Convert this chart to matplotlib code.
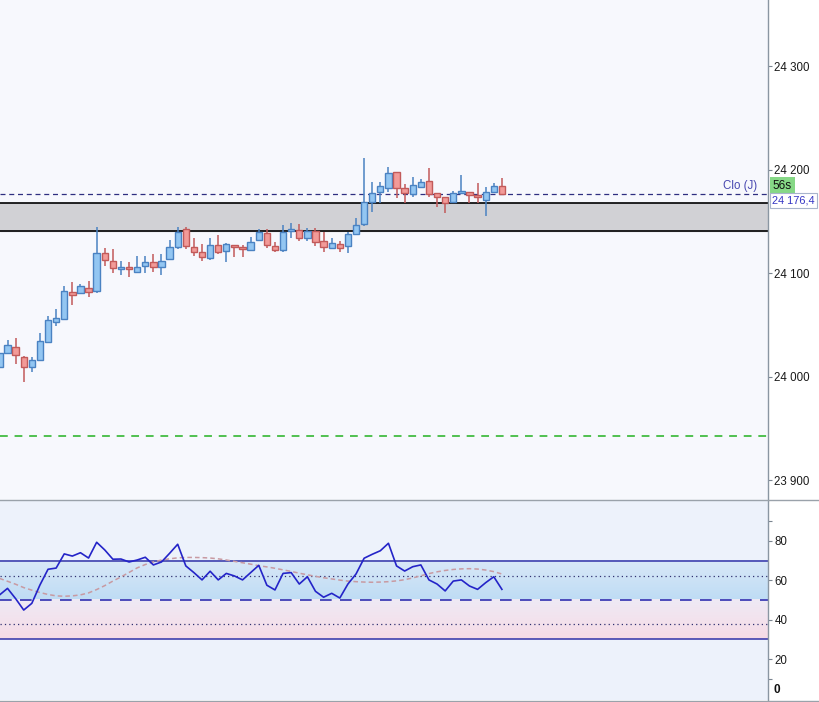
import matplotlib
matplotlib.use("Agg")
import matplotlib.pyplot as plt
import numpy as np
from matplotlib.ticker import FuncFormatter, FixedLocator
from matplotlib.transforms import blended_transform_factory
from matplotlib.lines import Line2D
from matplotlib.colors import LinearSegmentedColormap

plt.rcParams['font.family'] = ['Liberation Sans', 'DejaVu Sans']

# ---------------- data ----------------
opens = [24009, 24023, 24028.5, 24019, 24009, 24016, 24033, 24053, 24055.5, 24081.6,
         24080.7, 24085.5, 24082.6, 24119.3, 24111.6, 24103.9, 24105.8, 24101, 24106.8, 24110.6,
         24105.8, 24113.5, 24125.1, 24142.5, 24125.1, 24120.3, 24114.5, 24127, 24121.3, 24127,
         24125.1, 24122.2, 24131.9, 24138.6, 24126.1, 24122.2, 24140.6, 24141.5, 24133.8, 24140.6,
         24130.9, 24124.2, 24128, 24126.1, 24137.7, 24147.3, 24168.6, 24178.3, 24182.1, 24197.6,
         24182.1, 24176.3, 24183.1, 24188.9, 24177.3, 24173.4, 24168.6, 24177.3, 24178.3, 24175.4,
         24170.5, 24178.3, 24184.1]
highs = [24025, 24035, 24037, 24020, 24019, 24042, 24058.5, 24065, 24087, 24091,
         24089.4, 24092.3, 24144.4, 24124.2, 24123.2, 24111.6, 24110.6, 24116.4, 24116.4, 24118.4,
         24118.4, 24131.9, 24144.4, 24144.4, 24133.8, 24128, 24133.8, 24136.7, 24129, 24127.5,
         24127, 24134.8, 24142.5, 24142.5, 24130, 24146.4, 24148.3, 24147.3, 24143.5, 24143.5,
         24139.6, 24133.8, 24130.9, 24139.6, 24153.1, 24211.1, 24187.9, 24187.9, 24202.4, 24197.6,
         24186, 24192.8, 24190.8, 24201.4, 24177.3, 24173.4, 24179.2, 24194.7, 24178.3, 24187,
         24183.1, 24187, 24191.8]
lows = [24006, 24022, 24012, 23995, 24004, 24015, 24032, 24049, 24054.6, 24069,
        24079.7, 24076.8, 24080.7, 24106.8, 24100, 24098, 24096, 24100, 24100, 24101,
        24098, 24112.6, 24123.2, 24123.2, 24116.4, 24111.6, 24112.6, 24118.4, 24110.6, 24115.5,
        24115.5, 24122, 24130.9, 24124.2, 24120.3, 24120.3, 24133.8, 24130.9, 24130.9, 24126.1,
        24120.3, 24123.2, 24120.3, 24119.3, 24136.7, 24145.4, 24158.9, 24167.6, 24178.3, 24172.5,
        24167.6, 24173.4, 24183, 24173.4, 24163.8, 24157.9, 24168.6, 24177.3, 24167.6, 24167.6,
        24155.1, 24178.3, 24175.4]
closes = [24023, 24030, 24021, 24009, 24016, 24034, 24055, 24056.5, 24082.6, 24078.7,
          24087.4, 24081.6, 24119.3, 24112.6, 24104.8, 24105.8, 24103.9, 24105.8, 24110.6, 24105.8,
          24111.6, 24125.1, 24139.6, 24126.1, 24120.3, 24115.5, 24127, 24120.3, 24128, 24125.1,
          24123.2, 24129.9, 24139.6, 24127, 24122.2, 24139.6, 24142.5, 24133.8, 24140.6, 24129.9,
          24125.1, 24129, 24124.2, 24137.7, 24146.4, 24168.6, 24177.3, 24184.1, 24196.6, 24182.1,
          24177.3, 24185, 24187.9, 24176.3, 24173.4, 24167.6, 24177.3, 24179.2, 24175.4, 24173.4,
          24178.3, 24184.1, 24176.4]

rsi = [52.5, 55.9, 50.7, 44.9, 48.3, 57.6, 65.6, 66.2, 73.4, 72.3,
       74.0, 71.3, 79.3, 75.4, 70.7, 70.8, 69.3, 70.3, 71.7, 67.8,
       69.3, 73.7, 78.3, 67.3, 63.9, 60.2, 64.6, 60.2, 63.5, 62.2,
       60.2, 63.9, 67.6, 57.5, 55.1, 63.5, 63.9, 58.1, 61.8, 54.4,
       51.4, 53.4, 51.0, 58.1, 63.2, 71.2, 73.2, 75.0, 78.8, 67.3,
       64.7, 66.9, 67.8, 60.2, 58.1, 54.6, 59.6, 60.2, 57.1, 55.4,
       58.8, 61.8, 55.4]
rsi_ma = [61.0, 59.5, 58.0, 56.3, 55.0, 53.8, 52.8, 52.1, 51.9, 52.1,
          52.6, 53.6, 55.3, 57.3, 59.6, 61.7, 64.0, 66.3, 68.0, 69.3,
          70.3, 70.9, 71.4, 71.6, 71.6, 71.5, 71.3, 70.9, 70.3, 69.6,
          68.9, 68.2, 67.4, 66.8, 66.1, 65.3, 64.5, 63.6, 62.8, 62.0,
          61.3, 60.7, 60.1, 59.6, 59.3, 59.1, 59.0, 59.1, 59.3, 59.7,
          60.3, 61.2, 62.3, 63.4, 64.3, 65.0, 65.5, 65.8, 65.9, 65.7,
          65.2, 64.4, 63.2]

price_ticks = [23900, 24000, 24100, 24200, 24300]
rsi_ticks = [20, 40, 60, 80]
band_low, band_high = 24140.6, 24167.6
green_level = 23942.5
last_close_label = "24 176,4"
timer_label = "56s"
clo_label = "Clo (J)"
rsi_levels = {"upper": 70, "lower": 30, "mid": 50, "dot_hi": 62, "dot_lo": 38}

# ---------------- figure ----------------
W, H = 819, 702
fig = plt.figure(figsize=(W / 100, H / 100), dpi=100, facecolor='white')
axw = 767.5 / W
ax = fig.add_axes([0, 202 / H, axw, 500 / H])
ax2 = fig.add_axes([0, 2 / H, axw, 199 / H])

xlim = (0.074, 94.77)
n = len(closes)
idx = np.arange(n)

# ---------------- price panel ----------------
ax.set_facecolor('#f7f8fd')
ax.set_xlim(*xlim)
ax.set_ylim(23880.7, 24363.8)

ax.axhspan(band_low, band_high, color='#d1d1d5', zorder=1)
ax.axhline(band_low, color='black', lw=1.2, zorder=2)
ax.axhline(band_high, color='black', lw=1.2, zorder=2)
ax.axhline(closes[-1], color='#2e2e80', lw=0.9, ls=(0, (4, 3)), zorder=2)
ax.axhline(green_level, color='#50c050', lw=1.4, ls=(0, (4, 3.5)), zorder=2)

up_face, up_edge = '#93c6f2', '#4a82c2'
dn_face, dn_edge = '#f29a98', '#c25a5a'
for i, o, h, l, c in zip(idx, opens, highs, lows, closes):
    up = c >= o
    ec = up_edge if up else dn_edge
    fc = up_face if up else dn_face
    ax.vlines(i, l, h, color=ec, lw=1.1, zorder=3)
    bottom = min(o, c)
    height = max(abs(c - o), 0.8)
    ax.bar(i, height, bottom=bottom, width=0.78, color=fc, edgecolor=ec,
           linewidth=1.0, zorder=4)

ax.yaxis.tick_right()
ax.yaxis.set_major_locator(FixedLocator(price_ticks))
ax.yaxis.set_major_formatter(FuncFormatter(lambda v, p: f"{int(round(v)):,}".replace(",", " ")))
ax.tick_params(axis='y', direction='out', length=3, width=0.8, color='#7a8490',
               labelsize=8.3, labelcolor='#1a1a1a', pad=2)
ax.set_xticks([])
for s in ['top', 'left', 'bottom']:
    ax.spines[s].set_visible(False)
ax.spines['right'].set_color('#8a96a2')
ax.spines['right'].set_linewidth(1.0)

tr = blended_transform_factory(ax.transAxes, ax.transData)
ax.text(757 / 767.5, 24178.0, clo_label, transform=tr, ha='right', va='bottom',
        fontsize=8.3, color='#4848b0', zorder=6)
ax.text(1 + 5 / 767.5, 24184.5, timer_label, transform=tr, ha='left', va='center',
        fontsize=8.5, color='#101010', clip_on=False, zorder=6,
        bbox=dict(boxstyle='square,pad=0.25', fc='#86d886', ec='none'))
ax.text(1 + 5 / 767.5, closes[-1] - 1.5, last_close_label, transform=tr, ha='left', va='top',
        fontsize=7.9, color='#3434c4', clip_on=False, zorder=6,
        bbox=dict(boxstyle='square,pad=0.2', fc='white', ec='#a8b4cc', lw=0.8))

# ---------------- RSI panel ----------------
ax2.set_facecolor('#edf2fb')
grad = np.linspace(0, 1, 64).reshape(-1, 1)
cm_blue = LinearSegmentedColormap.from_list('b', ['#bedcf4', '#d9e8f8'])
cm_pink = LinearSegmentedColormap.from_list('p', ['#f7dbe6', '#eeeaf5'])
ax2.imshow(grad, extent=[xlim[0], xlim[1], rsi_levels['mid'], rsi_levels['upper']],
           origin='lower', aspect='auto', cmap=cm_blue, zorder=0.5)
ax2.imshow(grad, extent=[xlim[0], xlim[1], rsi_levels['lower'], rsi_levels['mid']],
           origin='lower', aspect='auto', cmap=cm_pink, zorder=0.5)
ax2.set_xlim(*xlim)
ax2.set_ylim(-0.76, 100.25)

ax2.axhline(rsi_levels['upper'], color='#3232a8', lw=1.1, zorder=2)
ax2.axhline(rsi_levels['lower'], color='#3232a8', lw=1.1, zorder=2)
ax2.axhline(rsi_levels['mid'], color='#3030b0', lw=1.2, ls=(0, (7, 5)), zorder=2)
ax2.axhline(rsi_levels['dot_hi'], color='#303070', lw=0.9, ls=(0, (1, 2.5)), zorder=2)
ax2.axhline(rsi_levels['dot_lo'], color='#303070', lw=0.9, ls=(0, (1, 2.5)), zorder=2)

ax2.plot(idx, rsi_ma, color='#c89aa2', lw=1.1, ls=(0, (3, 2)), zorder=3)
ax2.plot(idx, rsi, color='#2424c8', lw=1.2, zorder=4)

ax2.yaxis.tick_right()
ax2.set_yticks(rsi_ticks)
ax2.set_yticks([10, 90], minor=True)
ax2.tick_params(axis='y', which='both', direction='out', length=3, width=0.8, color='#7a8490',
                labelsize=8.3, labelcolor='#1a1a1a', pad=2)
ax2.set_xticks([])
for s in ['top', 'left', 'bottom']:
    ax2.spines[s].set_visible(False)
ax2.spines['right'].set_color('#8a96a2')
ax2.spines['right'].set_linewidth(1.0)
tr2 = blended_transform_factory(ax2.transAxes, ax2.transData)
ax2.text(1 + 6 / 767.5, 4.5, "0", transform=tr2, ha='left', va='center', fontsize=8.5,
         fontweight='bold', color='#101010', clip_on=False)

# separators
fig.add_artist(Line2D([0, 1], [202 / H, 202 / H], color='#9aa2aa', lw=1.0))
fig.add_artist(Line2D([0, 1], [1.5 / H, 1.5 / H], color='#9aa2aa', lw=1.0))

fig.savefig('out.png', dpi=100, facecolor='white')
